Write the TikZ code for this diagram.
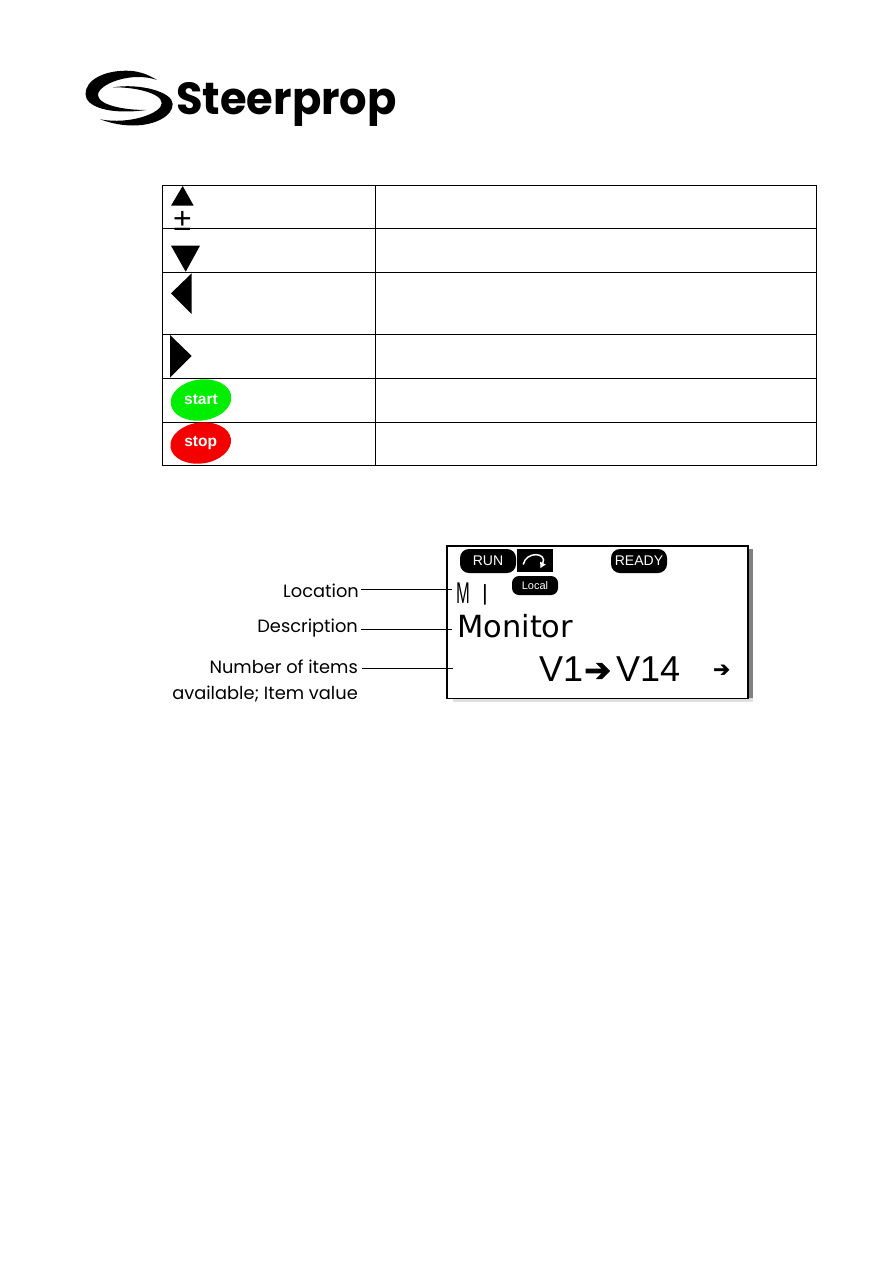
\documentclass[tikz,border=0pt]{standalone}
\usepackage{fontspec}
\setmainfont{Liberation Sans}
\newfontfamily\labelfont{Poppins}
\newfontfamily\logofont{Poppins}
\newfontfamily\dejafont{DejaVu Sans}
\newfontfamily\arrowfont{DejaVu Sans}[FakeBold=2.5]
\usetikzlibrary{arrows.meta,positioning,calc,shapes.geometric}
\definecolor{keygreen}{RGB}{0,238,0}
\definecolor{keyred}{RGB}{245,0,0}
\begin{document}
\begin{tikzpicture}[x=1pt,y=-1pt,>=Latex,
grid/.style={draw=black,line width=1.2pt},
keytip/.style={fill=black},
keyoval/.style={ellipse,inner sep=0pt,minimum width=61pt,minimum height=41pt,rotate=8},
keytext/.style={text=white,font=\fontsize{15.5}{15.5}\selectfont\bfseries},
pill/.style={rectangle,rounded corners=9pt,fill=black,text=white,inner sep=0pt,minimum height=24pt,minimum width=56pt,font=\fontsize{14}{14}\selectfont},
tag/.style={anchor=east,inner sep=0pt,font=\labelfont\fontsize{17.8}{17.8}\selectfont},
lead/.style={black,line width=1.1pt},
lcd/.style={inner sep=0pt,anchor=base west}]
\useasboundingbox (0,0) rectangle (893,1263);
\fill[white] (0,0) rectangle (893,1263);
% logo
\fill (157,80) .. controls (146,73) and (136,70.7) .. (126,70.7) .. controls (104,70.7) and (85.5,80) .. (85.5,94) .. controls (85.5,107) and (110,115) .. (146,110) .. controls (120,110) and (98,104) .. (98,95) .. controls (98,84) and (132,71) .. (157,80) -- cycle;
\fill (100,119.3) .. controls (112,123.5) and (122,125.5) .. (133,125.5) .. controls (155,125.5) and (172.7,116) .. (172.7,104) .. controls (172.7,92) and (140,83) .. (113,87.3) .. controls (135,87) and (161.7,93) .. (161.7,103.3) .. controls (161.7,113) and (130,125) .. (100,119.3) -- cycle;
\node[inner sep=0pt,anchor=base west,font=\logofont\bfseries\fontsize{45}{45}\selectfont] (logo) at (176,114) {\scalebox{.96}[1]{Steerprop}};
% key table
\draw[grid] (162.5,185.5) rectangle (816.5,465.5);
\foreach \y in {228.5,272.5,334.5,378.5,422.5}
  \draw[grid] (162.5,\y) -- (816.5,\y);
\draw[grid] (375.5,185.5) -- (375.5,465.5);
\fill[keytip] (182.7,186) -- (193.7,205.7) -- (171,205.7) -- cycle;
\node[inner sep=0pt,font=\fontsize{32}{32}\selectfont] (plusminus) at (182.5,221) {±};
\fill[keytip] (171,245.7) -- (200,245.7) -- (185.7,271.7) -- cycle;
\fill[keytip] (171,293.3) -- (191.7,273.3) -- (191.7,314) -- cycle;
\fill[keytip] (170,335) -- (191.7,356) -- (170,377.7) -- cycle;
\node[keyoval,fill=keygreen] (startkey) at (201,400) {};
\node[keytext] at (startkey) {start};
\node[keyoval,fill=keyred] (stopkey) at (200.7,443) {};
\node[keytext] at (stopkey) {stop};
% display
\fill[black!50] (450,549) rectangle (753,698);
\fill[black!12] (453,698) rectangle (753,702);
\node[draw=black,fill=white,line width=1.7pt,inner sep=0pt,minimum width=301pt,minimum height=152.5pt,anchor=north west] (lcdbox) at (446,545) {};
\node[pill] (runpill) at (488,561) {RUN};
\node[fill=black,inner sep=0pt,minimum width=36pt,minimum height=23pt,anchor=west] (turnbox) at (517,560.5) {};
\draw[white,line width=1.5pt,-{Latex[length=6pt,width=7pt]}] ($(turnbox.center)+(-12,4)$) .. controls +(3,-14) and +(8,-16) .. ($(turnbox.center)+(5,8)$);
\node[pill] (readypill) at (639,561) {READY};
\node[pill,minimum width=46pt,minimum height=19pt,rounded corners=7pt,font=\fontsize{11}{11}\selectfont] (localpill) at (535,585.5) {Local};
\node[lcd,font=\fontsize{30}{30}\selectfont] (locm) at (456,603) {\scalebox{.55}[1]{M}};
\node[lcd,font=\fontsize{22}{22}\selectfont] (locone) at (482,600) {|};
\node[lcd,font=\dejafont\fontsize{30.5}{30.5}\selectfont] (monitor) at (457,637) {Monitor};
\node[lcd,font=\fontsize{36}{36}\selectfont] (vfirst) at (539,681) {V1};
\node[lcd,font=\arrowfont\fontsize{32}{32}\selectfont] (varrow) at (584,681) {➔};
\node[lcd,font=\fontsize{36}{36}\selectfont] (vlast) at (616,681) {V14};
\node[lcd,font=\arrowfont\fontsize{20}{20}\selectfont] (scrollarrow) at (713,676) {➔};
% labels
\node[tag] (location) at (359,591) {Location};
\node[tag] (description) at (358,628) {Description};
\node[tag] (itemsa) at (358,667) {Number of items};
\node[tag] (itemsb) at (358,694) {available; Item value};
\coordinate (locend) at (452,589.5);
\coordinate (descend) at (452,629.5);
\coordinate (itemsend) at (453,668.5);
\draw[lead,shorten <=2pt] (location.east |- locend) -- (locend);
\draw[lead,shorten <=3pt] (description.east |- descend) -- (descend);
\draw[lead,shorten <=4pt] (itemsa.east |- itemsend) -- (itemsend);
\end{tikzpicture}
\end{document}
